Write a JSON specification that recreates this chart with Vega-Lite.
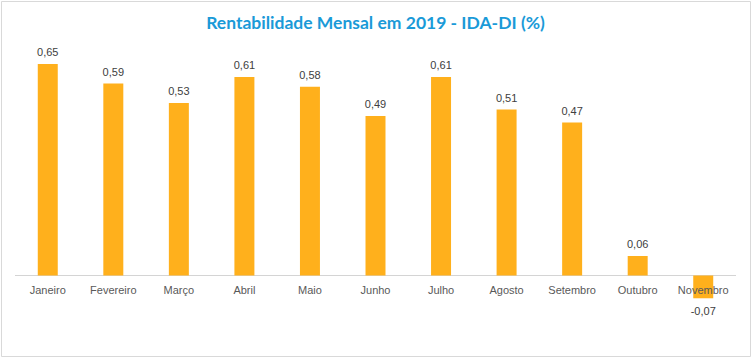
{
  "$schema": "https://vega.github.io/schema/vega-lite/v6.json",
  "width": 749,
  "height": 355,
  "padding": {"left": 1, "top": 1, "right": 1, "bottom": 1},
  "autosize": {"type": "none"},
  "background": "white",
  "title": {
    "text": "Rentabilidade Mensal em 2019 - IDA-DI (%)",
    "anchor": "middle",
    "frame": "group",
    "orient": "top",
    "offset": -27,
    "dy": 18,
    "baseline": "alphabetic",
    "font": "Lato",
    "fontSize": 17.5,
    "fontWeight": "bold",
    "color": "#1a9ad8"
  },
  "data": {
    "values": [
      {"mes": "Janeiro", "valor": 0.65},
      {"mes": "Fevereiro", "valor": 0.59},
      {"mes": "Março", "valor": 0.53},
      {"mes": "Abril", "valor": 0.61},
      {"mes": "Maio", "valor": 0.58},
      {"mes": "Junho", "valor": 0.49},
      {"mes": "Julho", "valor": 0.61},
      {"mes": "Agosto", "valor": 0.51},
      {"mes": "Setembro", "valor": 0.47},
      {"mes": "Outubro", "valor": 0.06},
      {"mes": "Novembro", "valor": -0.07}
    ]
  },
  "encoding": {
    "x": {
      "field": "mes",
      "type": "nominal",
      "sort": null,
      "axis": null,
      "scale": {
        "domain": ["Janeiro", "Fevereiro", "Março", "Abril", "Maio", "Junho", "Julho", "Agosto", "Setembro", "Outubro", "Novembro"],
        "paddingInner": 0.695,
        "paddingOuter": 0.561
      }
    },
    "y": {
      "field": "valor",
      "type": "quantitative",
      "axis": null,
      "scale": {"domain": [-0.2474, 0.8436], "nice": false, "zero": false}
    }
  },
  "layer": [
    {
      "mark": {"type": "rule", "color": "#d4d4d4", "strokeWidth": 1},
      "encoding": {
        "x": {"datum": "Janeiro", "bandPosition": -1.135},
        "x2": {"datum": "Novembro", "bandPosition": 2.135},
        "y": {"datum": 0},
        "y2": null
      }
    },
    {
      "mark": {"type": "bar", "color": "#FFB01C"},
      "encoding": {"y2": {"datum": 0}}
    },
    {
      "mark": {"type": "text", "font": "Liberation Sans", "fontSize": 11, "color": "#595959", "baseline": "alphabetic", "dy": 19},
      "encoding": {"text": {"field": "mes"}, "y": {"datum": 0}}
    },
    {
      "transform": [{"filter": "datum.valor >= 0"}],
      "mark": {"type": "text", "font": "Liberation Sans", "fontSize": 11, "color": "#404040", "baseline": "alphabetic", "dy": -8},
      "encoding": {"text": {"field": "valor", "format": ".2f"}}
    },
    {
      "transform": [{"filter": "datum.valor < 0"}],
      "mark": {"type": "text", "font": "Liberation Sans", "fontSize": 11, "color": "#404040", "baseline": "alphabetic", "dy": 17},
      "encoding": {"text": {"field": "valor", "format": ".2f"}}
    }
  ],
  "config": {
    "view": {"stroke": "#d9d9d9", "strokeWidth": 1},
    "locale": {
      "number": {"decimal": ",", "thousands": ".", "grouping": [3], "currency": ["R$", ""], "minus": "-"}
    }
  }
}
